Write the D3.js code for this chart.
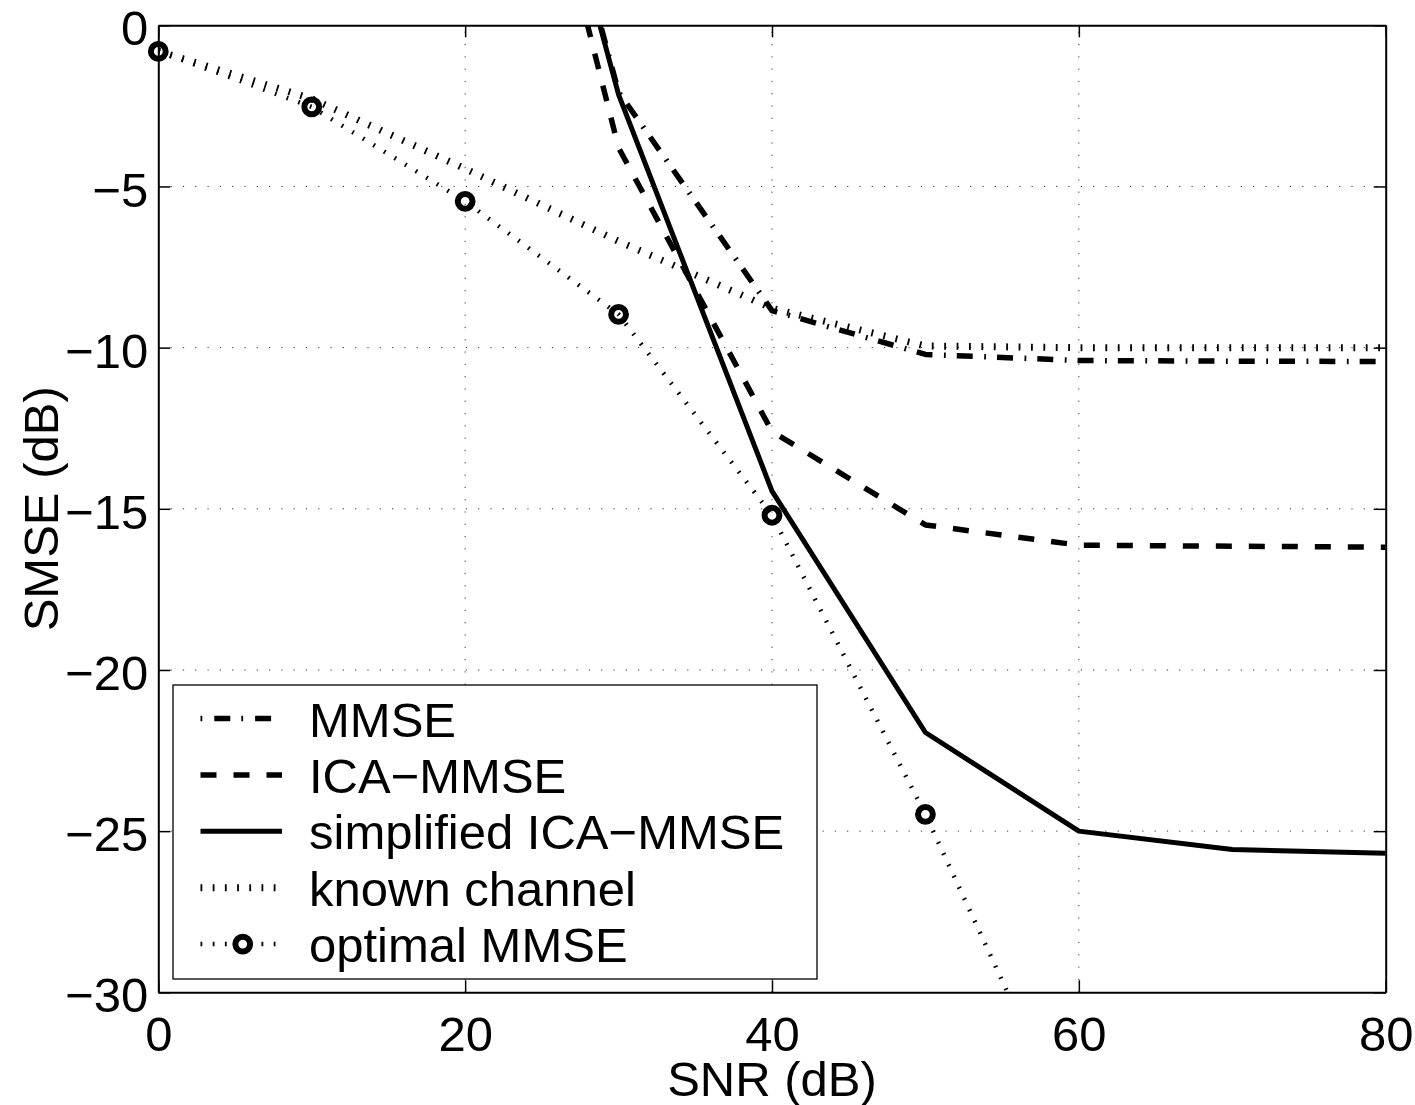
<!DOCTYPE html>
<html>
<head>
<meta charset="utf-8">
<title>SMSE versus SNR</title>
<script src="https://cdn.jsdelivr.net/npm/d3@7"></script>
<style>
  html, body { margin: 0; padding: 0; background: #fff; }
  svg text { font-family: "Liberation Sans", Arial, Helvetica, sans-serif; fill: #000; }
</style>
</head>
<body>
<svg id="chart" width="1415" height="1105"></svg>
<script>
// SNR grid (dB) shared by every curve
const snr = [0, 10, 20, 30, 40, 50, 60, 70, 80];

// SMSE (dB) per method; null = not evaluated at that SNR
const mmse          = [null, null, 15.6, -2.07, -8.85, -10.21, -10.40, -10.42, -10.43];
const icaMmse       = [null, null, 15.0, -3.80, -12.60, -15.50, -16.13, -16.16, -16.19];
const simplifiedIca = [null, null, 15.5, -2.15, -14.45, -21.94, -25.00, -25.57, -25.69];
const knownChannel  = [-0.80, -2.28, -4.45, -6.70, -8.78, -9.95, -10.00, -10.00, -10.00];
const optimalMmse   = [-0.81, -2.53, -5.46, -8.97, -15.20, -24.48, -34.80, null, null];

const seriesNames = ["MMSE", "ICA\u2212MMSE", "simplified ICA\u2212MMSE", "known channel", "optimal MMSE"];

const xTicks = [0, 20, 40, 60, 80];
const yTicks = [0, -5, -10, -15, -20, -25, -30];

// ---- layout ----
const L = 158.3, R = 1385.7, T = 25.3, B = 992.3;
const FONT = 49;

const svg = d3.select("#chart");

const x = d3.scaleLinear().domain([0, 80]).range([L, R]);
const y = d3.scaleLinear().domain([-30, 0]).range([B, T]);

// ---- dotted grid ----
const grid = svg.append("g").attr("class", "grid")
  .attr("stroke", "#333").attr("stroke-width", 1).attr("stroke-dasharray", "1.2,11.1");
grid.selectAll("line.gx").data(xTicks.slice(1, -1)).join("line").attr("class", "gx")
  .attr("x1", d => x(d)).attr("x2", d => x(d)).attr("y1", B).attr("y2", T);
grid.selectAll("line.gy").data(yTicks.slice(1, -1)).join("line").attr("class", "gy")
  .attr("x1", L).attr("x2", R).attr("y1", d => y(d)).attr("y2", d => y(d));

// ---- curves ----
svg.append("clipPath").attr("id", "plotClip")
  .append("rect").attr("x", L).attr("y", T).attr("width", R - L).attr("height", B - T);

const styles = [
  { values: mmse,          width: 5.5, dash: "16,11.5,1.8,11", legendDash: "1.8,12,16,11" },
  { values: icaMmse,       width: 5.5, dash: "16,17",          legendDash: "16,17" },
  { values: simplifiedIca, width: 5,   dash: null,             legendDash: null },
  { values: knownChannel,  width: 7,   dash: "1.8,10.6",       legendDash: "1.8,10.4" },
  { values: optimalMmse,   width: 4.5, dash: "1.7,10.7",       legendDash: "1.8,10.4" }
];

const line = d3.line()
  .defined(d => d[1] != null)
  .x(d => x(d[0]))
  .y(d => y(d[1]));

const curves = svg.append("g").attr("clip-path", "url(#plotClip)");
styles.forEach(s => {
  curves.append("path")
    .datum(snr.map((v, i) => [v, s.values[i]]))
    .attr("d", line)
    .attr("fill", "none")
    .attr("stroke", "#000")
    .attr("stroke-width", s.width)
    .attr("stroke-linejoin", "round")
    .attr("stroke-dasharray", s.dash);
});

// circle markers of the optimal MMSE curve
const MARK_R = 7.4, MARK_W = 6;
svg.append("g").selectAll("circle")
  .data(snr.map((v, i) => [v, optimalMmse[i]]).filter(d => d[1] != null && d[1] >= -30))
  .join("circle")
  .attr("cx", d => x(d[0])).attr("cy", d => y(d[1]))
  .attr("r", MARK_R).attr("fill", "none").attr("stroke", "#000").attr("stroke-width", MARK_W);

// ---- axes (ticks point inward on all four sides) ----
function styleAxis(g) {
  g.select(".domain").attr("stroke", "#000").attr("stroke-width", 2);
  g.selectAll(".tick line").attr("stroke", "#000").attr("stroke-width", 1.5);
  g.selectAll(".tick text").attr("font-size", FONT).attr("font-family", null);
}

svg.append("g").attr("transform", `translate(0,${B})`)
  .call(d3.axisBottom(x).tickValues(xTicks).tickSize(-12).tickSizeOuter(0).tickFormat(d3.format("d")))
  .call(styleAxis)
  .call(g => g.selectAll(".tick text").attr("y", 59).attr("dy", null));

svg.append("g").attr("transform", `translate(0,${T})`)
  .call(d3.axisTop(x).tickValues(xTicks).tickSize(-12).tickSizeOuter(0).tickFormat(""))
  .call(styleAxis);

svg.append("g").attr("transform", `translate(${L},0)`)
  .call(d3.axisLeft(y).tickValues(yTicks).tickSize(-12).tickSizeOuter(0).tickPadding(10))
  .call(styleAxis)
  .call(g => g.selectAll(".tick text").attr("dy", "0.4em"));

svg.append("g").attr("transform", `translate(${R},0)`)
  .call(d3.axisRight(y).tickValues(yTicks).tickSize(-12).tickSizeOuter(0).tickFormat(""))
  .call(styleAxis);

// ---- axis titles ----
svg.append("text")
  .attr("x", (L + R) / 2).attr("y", 1096)
  .attr("text-anchor", "middle").attr("font-size", FONT)
  .text("SNR (dB)");

svg.append("text")
  .attr("transform", `translate(58,${(T + B) / 2}) rotate(-90)`)
  .attr("text-anchor", "middle").attr("font-size", FONT)
  .text("SMSE (dB)");

// ---- legend ----
const LG = { x: 173, y: 685, w: 644, h: 294, row0: 718.5, step: 56.4, s0: 200.5, s1: 282, tx: 309 };
const legend = svg.append("g").attr("class", "legend");
legend.append("rect")
  .attr("x", LG.x).attr("y", LG.y).attr("width", LG.w).attr("height", LG.h)
  .attr("fill", "#fff").attr("stroke", "#000").attr("stroke-width", 1.3);

const rows = legend.selectAll("g.row").data(styles).join("g").attr("class", "row")
  .attr("transform", (d, i) => `translate(0,${LG.row0 + i * LG.step})`);

rows.append("line")
  .attr("x1", LG.s0).attr("x2", LG.s1).attr("y1", 0).attr("y2", 0)
  .attr("stroke", "#000")
  .attr("stroke-width", d => d.width)
  .attr("stroke-dasharray", d => d.legendDash);

rows.filter((d, i) => i === 4).append("circle")
  .attr("cx", (LG.s0 + LG.s1) / 2 + 1.5).attr("cy", 0)
  .attr("r", MARK_R).attr("fill", "#fff").attr("stroke", "#000").attr("stroke-width", MARK_W);

rows.append("text")
  .attr("x", LG.tx).attr("y", 18)
  .attr("font-size", FONT)
  .text((d, i) => seriesNames[i]);
</script>
</body>
</html>
